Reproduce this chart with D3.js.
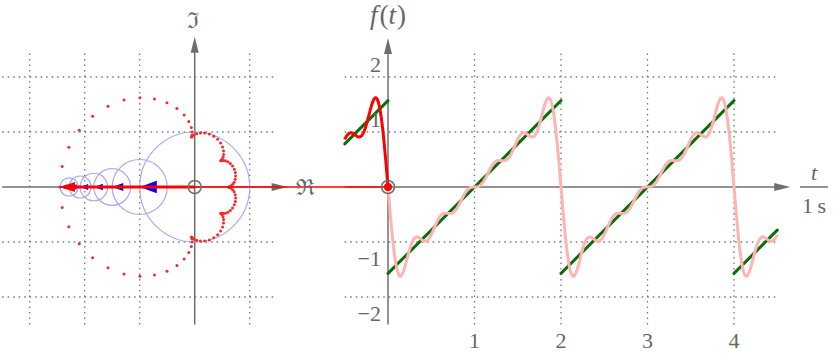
<!DOCTYPE html>
<html>
<head>
<meta charset="utf-8">
<script src="https://cdn.jsdelivr.net/npm/d3@7"></script>
<style>
  body { margin: 0; background: #fff; }
  svg { display: block; }
  text { font-family: "Liberation Serif", "DejaVu Serif", serif; fill: #666; }
</style>
</head>
<body>
<svg id="chart" width="833" height="355"></svg>
<script>
const harmonics = [1, 2, 3, 4, 5, 6];
const amplitudes = [1, 1/2, 1/3, 1/4, 1/5, 1/6];
const startPhase = Math.PI;      // all vectors point left at t = 0
const currentTime = 0;
const dotStep = 0.02;            // time between the red trace dots
const dotPeriod = 2;

// green target sawtooth, segment by segment
const sawT = [[-0.5, 0], [0, 2], [2, 4], [4, 4.5]];
const sawV = [[0.785, 1.571], [-1.571, 1.571], [-1.571, 1.571], [-1.571, -0.785]];

const xTicks = [1, 2, 3, 4];
const yTicks = [-2, -1, 1, 2];
const planeGridX = [-3, -2, -1, 1];
const planeGridY = [-2, -1, 1, 2];

const svg = d3.select("#chart");

// scales: complex plane on the left, time plot on the right, same vertical scale
const xL = d3.scaleLinear().domain([-3.5, 1.5]).range([2.2, 277.2]);
const yS = d3.scaleLinear().domain([-2.5, 2.5]).range([324.5, 49.5]);
const xR = d3.scaleLinear().domain([-0.5, 4.5]).range([344.75, 777.25]);

// value of the sum at time t, plus the chain of partial tips
function epicycle(t) {
    let re = 0, im = 0;
    const tips = [[0, 0]];
    harmonics.forEach((n, i) => {
        const a = n * Math.PI * t + startPhase;
        re += amplitudes[i] * Math.cos(a);
        im += amplitudes[i] * Math.sin(a);
        tips.push([re, im]);
    });
    return tips;
}

const gray = "#6f6f6f";

// grid
const grid = svg.append("g")
    .attr("stroke", "#777")
    .attr("stroke-width", 1.3)
    .attr("stroke-dasharray", "1.5 4");

grid.selectAll(".lh").data(planeGridY).join("line")
    .attr("x1", xL(-3.5)).attr("x2", xL(1.5))
    .attr("y1", d => yS(d)).attr("y2", d => yS(d));
grid.selectAll(".lv").data(planeGridX).join("line")
    .attr("x1", d => xL(d)).attr("x2", d => xL(d))
    .attr("y1", yS(-2.5)).attr("y2", yS(2.5));
grid.selectAll(".rh").data(yTicks).join("line")
    .attr("x1", xR(-0.5)).attr("x2", xR(4.5))
    .attr("y1", d => yS(d)).attr("y2", d => yS(d));
grid.selectAll(".rv").data(xTicks).join("line")
    .attr("x1", d => xR(d)).attr("x2", d => xR(d))
    .attr("y1", yS(-2.5)).attr("y2", yS(2.5));

function arrow(g, x1, y1, x2, y2, color, width, headLen, headHalf) {
    const dx = x2 - x1, dy = y2 - y1;
    const len = Math.hypot(dx, dy);
    const ux = dx / len, uy = dy / len;
    const bx = x2 - ux * headLen, by = y2 - uy * headLen;
    g.append("line")
        .attr("x1", x1).attr("y1", y1)
        .attr("x2", bx + ux * 1).attr("y2", by + uy * 1)
        .attr("stroke", color)
        .attr("stroke-width", width);
    g.append("path")
        .attr("d", `M${x2},${y2}L${bx - uy * headHalf},${by + ux * headHalf}L${bx + uy * headHalf},${by - ux * headHalf}Z`)
        .attr("fill", color);
}

// axes
const axes = svg.append("g");
arrow(axes, xL(-3.5), yS(0), xL(1.69), yS(0), gray, 1.5, 16, 4);
arrow(axes, xL(0), yS(-2.5), xL(0), yS(2.73), gray, 1.5, 16, 4);
arrow(axes, xR(0), yS(-2.5), xR(0), yS(2.71), gray, 1.5, 16, 4);
arrow(axes, xR(-0.5), yS(0), xR(4.65), yS(0), gray, 1.5, 16, 4);

// epicycle circles
const now = epicycle(currentTime);
svg.append("g").selectAll("circle").data(amplitudes).join("circle")
    .attr("cx", (d, i) => xL(now[i][0]))
    .attr("cy", (d, i) => yS(now[i][1]))
    .attr("r", d => xL(d) - xL(0))
    .attr("fill", "none")
    .attr("stroke", "#a9a9f5")
    .attr("stroke-width", 1.2);

// red trace dots of the tip over one period
const dotTimes = d3.range(0, dotPeriod - 1e-9, dotStep);
svg.append("g").selectAll("circle").data(dotTimes).join("circle")
    .attr("cx", t => xL(epicycle(t)[harmonics.length][0]))
    .attr("cy", t => yS(epicycle(t)[harmonics.length][1]))
    .attr("r", 1.5)
    .attr("fill", "#f42a2a");

// blue vectors
const vec = svg.append("g");
harmonics.forEach((n, i) => {
    const p = now[i], q = now[i + 1];
    const len = xL(amplitudes[i]) - xL(0);
    const head = 5 + 0.22 * len;
    arrow(vec, xL(p[0]), yS(p[1]), xL(q[0]), yS(q[1]), "#0000ff", 2, head, head * 0.36);
});

// resulting vector and projection line to the time plot
const tip = now[harmonics.length];
svg.append("line")
    .attr("x1", xL(tip[0])).attr("y1", yS(tip[1]))
    .attr("x2", xR(currentTime)).attr("y2", yS(tip[1]))
    .attr("stroke", "#ff0000")
    .attr("stroke-width", 1.6);
arrow(svg.append("g"), xL(0), yS(0), xL(tip[0]), yS(tip[1]), "#ff0000", 3, 15, 5);

// time plot curves
const curveTimes = d3.range(-0.5, 4.5 + 1e-9, 0.005);
const line = d3.line()
    .x(t => xR(t))
    .y(t => yS(epicycle(t)[harmonics.length][1]));

const saw = svg.append("g");
sawT.forEach((seg, i) => {
    saw.append("line")
        .attr("x1", xR(seg[0])).attr("y1", yS(sawV[i][0]))
        .attr("x2", xR(seg[1])).attr("y2", yS(sawV[i][1]))
        .attr("stroke", "#0b6e0b")
        .attr("stroke-width", 3)
        .attr("stroke-linecap", "round");
});

svg.append("path")
    .datum(curveTimes.filter(t => t >= currentTime))
    .attr("fill", "none")
    .attr("stroke", "#ffb3b3")
    .attr("stroke-width", 3)
    .attr("stroke-linejoin", "round")
    .attr("d", line);

svg.append("path")
    .datum(curveTimes.filter(t => t <= currentTime))
    .attr("fill", "none")
    .attr("stroke", "#ff0000")
    .attr("stroke-width", 3)
    .attr("stroke-linejoin", "round")
    .attr("d", line);

// origin markers
svg.append("circle")
    .attr("cx", xL(0)).attr("cy", yS(0)).attr("r", 6.5)
    .attr("fill", "none").attr("stroke", gray).attr("stroke-width", 1.5);
svg.append("circle")
    .attr("cx", xR(currentTime)).attr("cy", yS(tip[1])).attr("r", 4)
    .attr("fill", "#ff0000");
svg.append("circle")
    .attr("cx", xR(0)).attr("cy", yS(0)).attr("r", 6.5)
    .attr("fill", "none").attr("stroke", gray).attr("stroke-width", 1.5);

// tick labels
const labels = svg.append("g").attr("font-size", 22);
labels.selectAll(".yt").data(yTicks).join("text")
    .attr("x", xR(0) - 7)
    .attr("y", d => d > 0 ? yS(d) - 5 : yS(d) + 24)
    .attr("text-anchor", "end")
    .text(d => d < 0 ? "\u2212" + (-d) : d);
labels.selectAll(".xt").data(xTicks).join("text")
    .attr("x", d => xR(d))
    .attr("y", 348)
    .attr("text-anchor", "middle")
    .text(d => d);

// axis titles
svg.append("text")
    .attr("x", xL(0) - 2).attr("y", 28)
    .attr("text-anchor", "middle").attr("font-size", 22)
    .text("\u2111");
svg.append("text")
    .attr("x", 305).attr("y", yS(0) + 8)
    .attr("text-anchor", "middle").attr("font-size", 22)
    .text("\u211C");

const ft = svg.append("text")
    .attr("x", xR(0)).attr("y", 24)
    .attr("text-anchor", "middle").attr("font-size", 27);
ft.append("tspan").attr("font-style", "italic").text("f");
ft.append("tspan").attr("dx", 2).text("(");
ft.append("tspan").attr("font-style", "italic").text("t");
ft.append("tspan").attr("dx", 1).text(")");

svg.append("text")
    .attr("x", 814).attr("y", 180)
    .attr("text-anchor", "middle").attr("font-size", 22)
    .attr("font-style", "italic")
    .text("t");
svg.append("line")
    .attr("x1", 800).attr("x2", 828)
    .attr("y1", 187).attr("y2", 187)
    .attr("stroke", gray).attr("stroke-width", 1.5);
svg.append("text")
    .attr("x", 814).attr("y", 213)
    .attr("text-anchor", "middle").attr("font-size", 22)
    .text("1\u2009s");
</script>
</body>
</html>
